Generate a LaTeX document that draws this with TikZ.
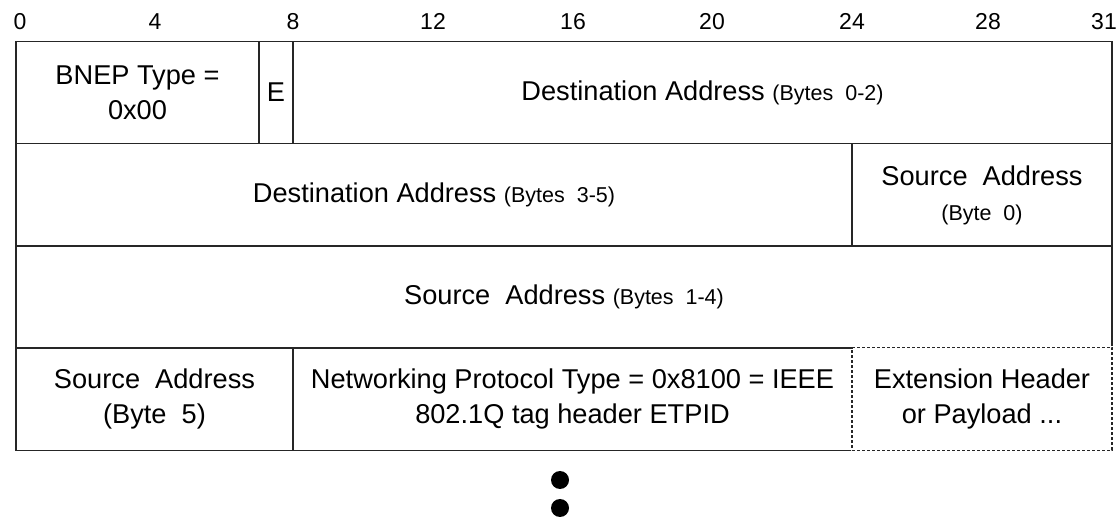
\documentclass[tikz,border=0pt]{standalone}
\usepackage{fontspec}
\setmainfont{Liberation Sans}
\usepackage{tikz}

\newcommand{\bigtext}{\fontsize{27.2}{35}\selectfont}
\newcommand{\smalltext}{\fontsize{21.5}{26}\selectfont}

\begin{document}
\begin{tikzpicture}
  [x=1pt,y=-1pt,
   field/.style={rectangle,draw=black!85,line width=1.2pt,minimum height=102.5pt,
                 inner sep=0pt,align=center,font=\bigtext},
   openfield/.style={field,dash pattern=on 3pt off 2pt,
                     preaction={draw=white,solid,line width=2.5pt}},
   bitnum/.style={font=\fontsize{23}{28}\selectfont,inner sep=0pt,anchor=base},
   dot/.style={circle,fill=black,minimum size=18pt,inner sep=0pt}]
  \useasboundingbox (0,0) rectangle (1120,518);

  % bit ruler
  \foreach \bit/\xpos in {0/20,4/155,8/293,12/433,16/573,20/712,24/852,28/988,31/1104}
    \node[bitnum] (b\bit) at (\xpos,30) {\bit};

  % row 1
  \node[field,minimum width=243pt] (type) at (137.5,92.5) {BNEP Type =\\0x00};
  \node[field,minimum width=34pt]  (ext)  at (276,92.5)   {E};
  \node[field,minimum width=819pt] (dsta) at (702.5,92.5)
    {Destination Address {\smalltext(Bytes\ \ 0-2)}};

  % row 2
  \node[field,minimum width=836pt] (dstb) at (434,195)
    {Destination Address {\smalltext(Bytes\ \ 3-5)}};
  \node[field,minimum width=260pt] (srca) at (982,195)
    {Source\ \ Address\\{\smalltext(Byte\ \ 0)}};

  % row 3
  \node[field,minimum width=1096pt] (srcb) at (564,297)
    {Source\ \ Address {\smalltext(Bytes\ \ 1-4)}};

  % row 4
  \node[field,minimum width=277pt] (srcc)  at (154.5,399) {Source\ \ Address\\(Byte\ \ 5)};
  \node[field,minimum width=559pt] (proto) at (572.5,399)
    {Networking Protocol Type = 0x8100 = IEEE\\802.1Q tag header ETPID};
  \node[openfield,minimum width=260pt] (next) at (982,399) {Extension Header\\or Payload ...};

  % more to follow
  \node[dot] (more1) at (560,480) {};
  \node[dot] (more2) at (560,508) {};

\end{tikzpicture}
\end{document}
